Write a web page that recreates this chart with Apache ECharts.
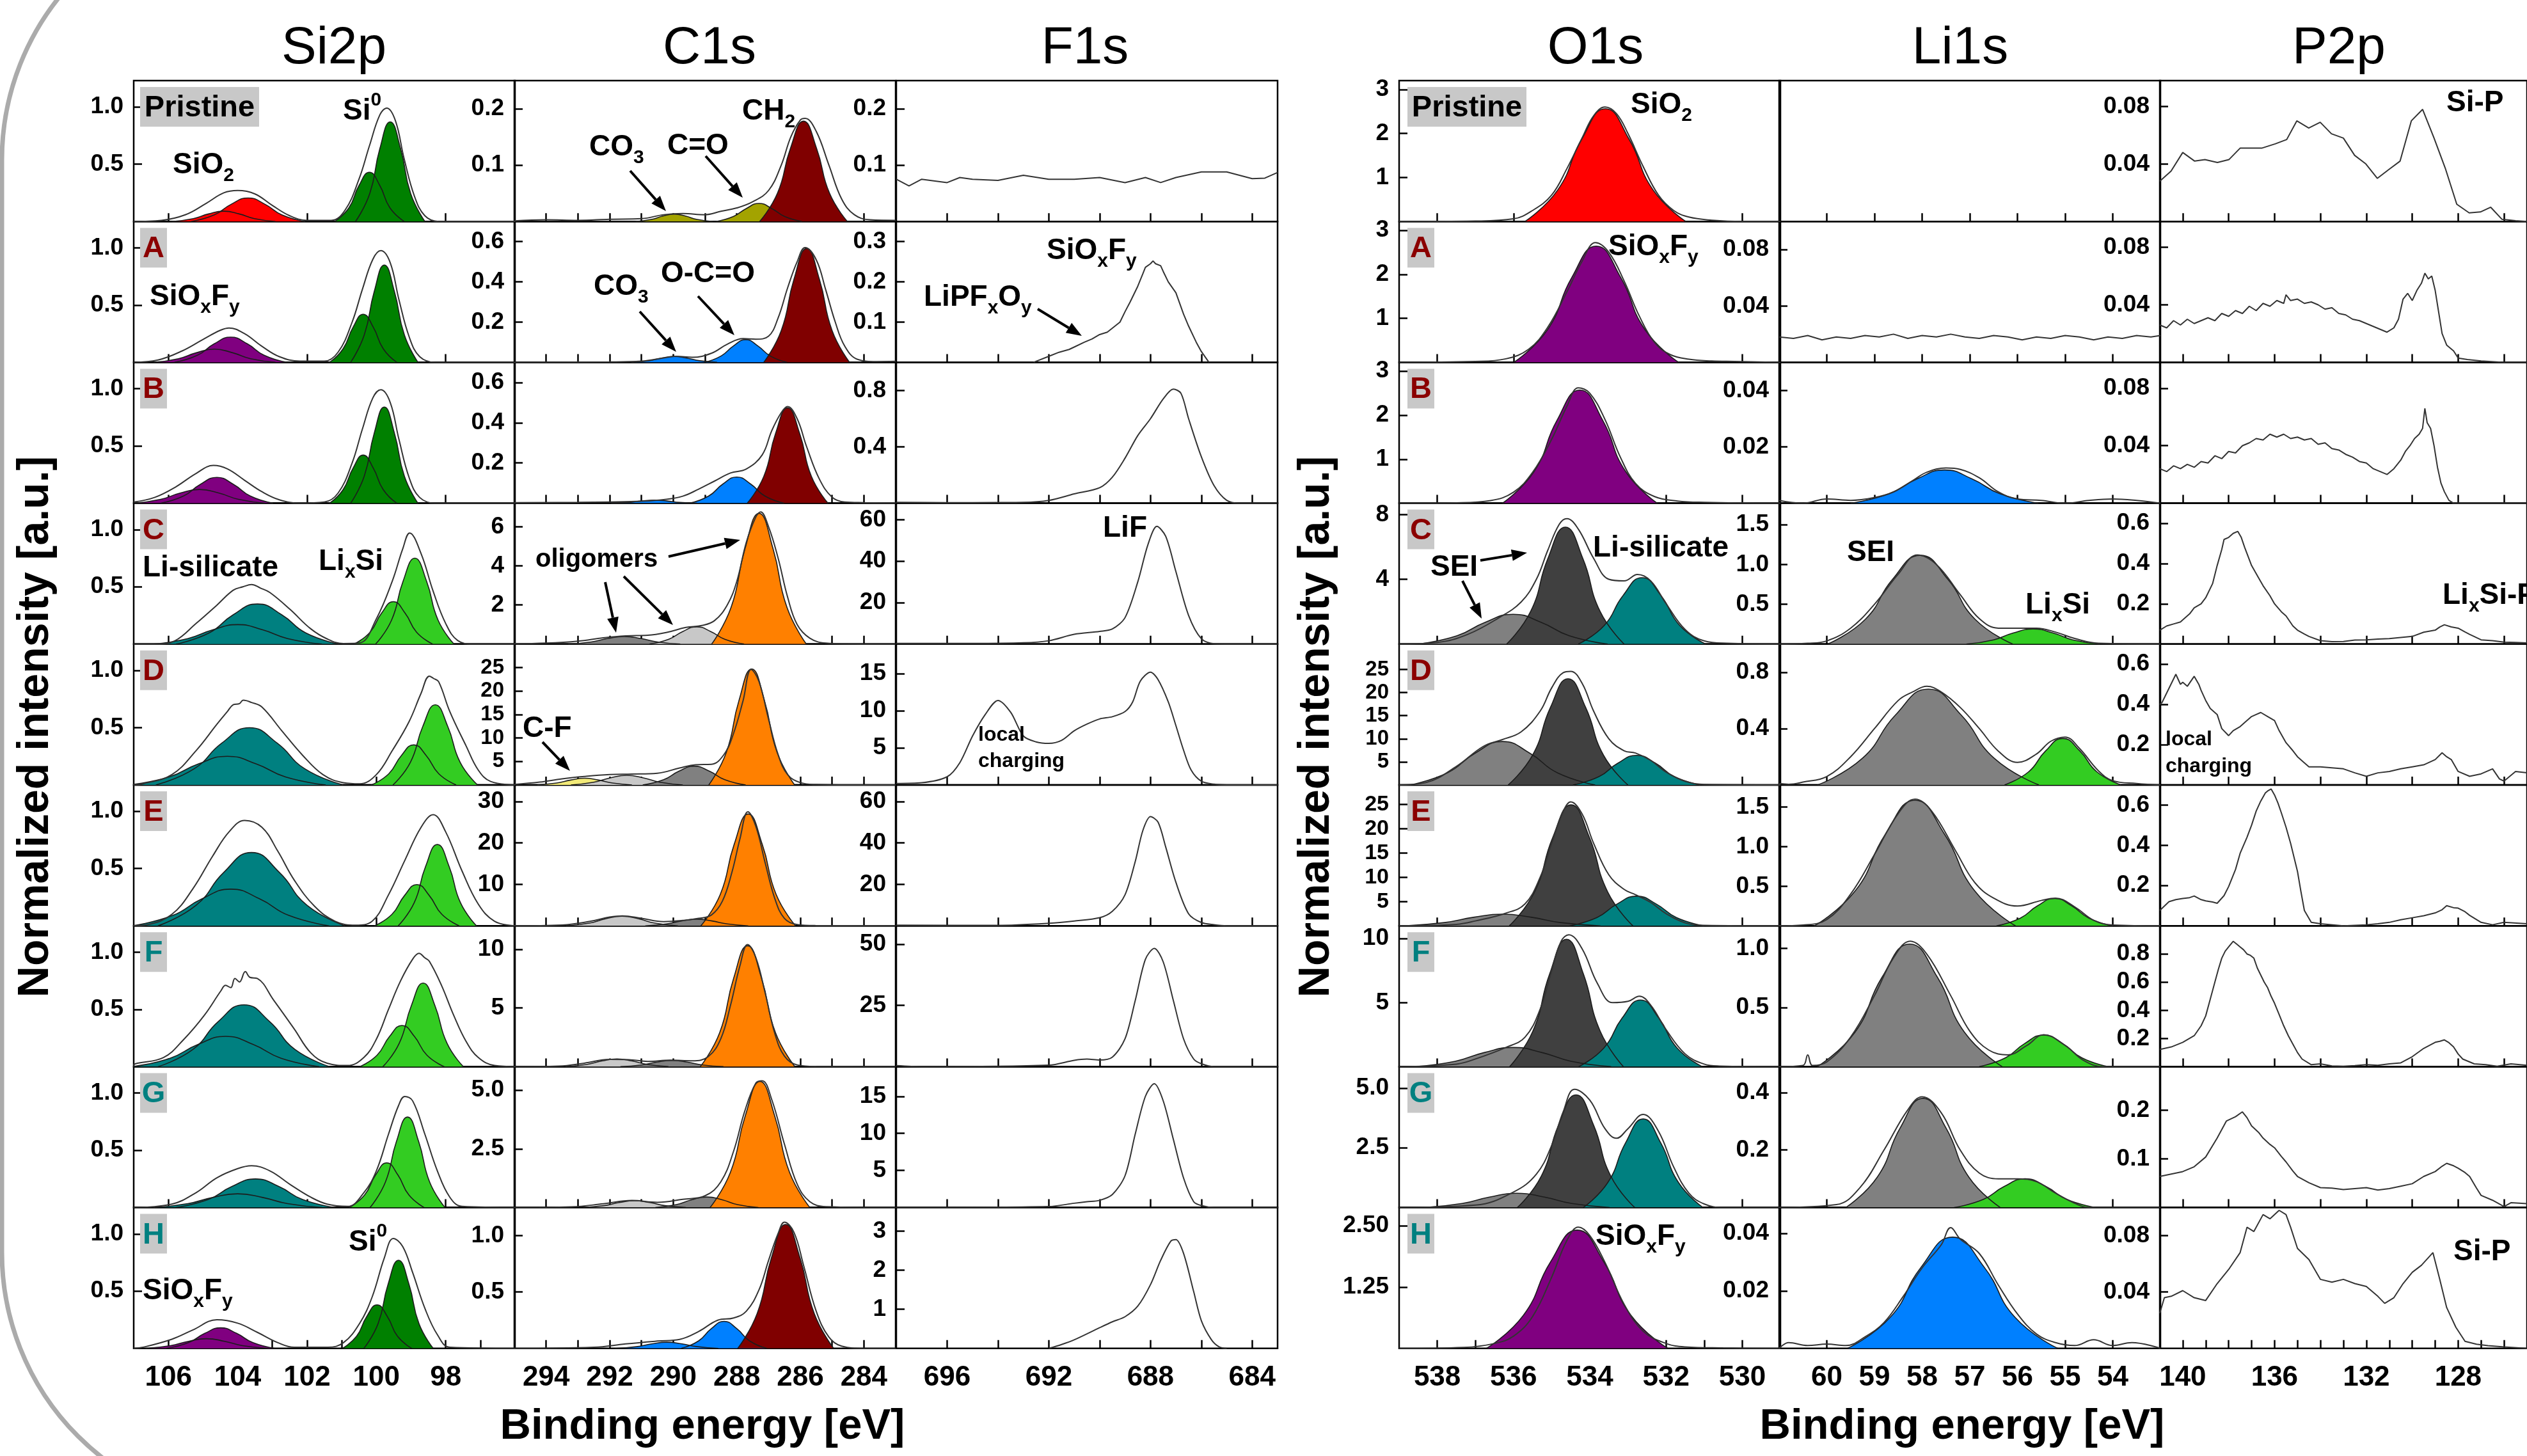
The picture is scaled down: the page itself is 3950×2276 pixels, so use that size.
<!DOCTYPE html>
<html>
<head>
<meta charset="utf-8">
<title>XPS spectra: Si2p, C1s, F1s, O1s, Li1s, P2p</title>
<script src="https://cdn.jsdelivr.net/npm/echarts@6.0.0/dist/echarts.min.js"></script>
<style>
  html, body { margin: 0; padding: 0; background: #fff; }
  #chart { width: 3950px; height: 2276px; }
</style>
</head>
<body>
<div id="chart"></div>
<script>
// ---------- categories / axes ----------
const rowNames = ['Pristine', 'A', 'B', 'C', 'D', 'E', 'F', 'G', 'H'];
const columnNames = ['Si2p', 'C1s', 'F1s', 'O1s', 'Li1s', 'P2p'];

// binding energy ranges (axes are reversed, high BE on the left)
const xMinByColumn = [96, 283, 683, 529, 53, 125];
const xMaxByColumn = [107, 295, 698, 539, 61, 141];
const xLabelValues = [
  [106, 104, 102, 100, 98],
  [294, 292, 290, 288, 286, 284],
  [696, 692, 688, 684],
  [538, 536, 534, 532, 530],
  [60, 59, 58, 57, 56, 55, 54],
  [140, 136, 132, 128]
];
const xTickValues = [
  [106, 104, 102, 100, 98],
  [294, 293, 292, 291, 290, 289, 288, 287, 286, 285, 284],
  [696, 694, 692, 690, 688, 686, 684],
  [538, 536, 534, 532, 530],
  [60, 59, 58, 57, 56, 55, 54],
  [140, 138, 136, 134, 132, 130, 128, 126]
];
const xBottomTickValues = [
  [106, 105, 104, 103, 102, 101, 100, 99, 98, 97],
  [294, 293, 292, 291, 290, 289, 288, 287, 286, 285, 284],
  [696, 694, 692, 690, 688, 686, 684],
  [538, 537, 536, 535, 534, 533, 532, 531, 530],
  [60, 59, 58, 57, 56, 55, 54],
  [140, 139, 138, 137, 136, 135, 134, 133, 132, 131, 130, 129, 128, 127, 126]
];

// intensity axis top per panel [column][row]
const yMaxByPanel = [
  [1.23, 1.23, 1.23, 1.23, 1.23, 1.23, 1.23, 1.23, 1.23],
  [0.25, 0.7, 0.7, 7.2, 30, 34, 12, 6, 1.25],
  [0.25, 0.35, 1.0, 68, 19, 68, 57.5, 19, 3.6],
  [3.2, 3.2, 3.2, 8.7, 30.5, 29, 11, 5.9, 2.87],
  [0.1, 0.1, 0.05, 1.77, 1.0, 1.78, 1.19, 0.49, 0.049],
  [0.098, 0.098, 0.098, 0.7, 0.7, 0.7, 1.0, 0.29, 0.1]
];
const yLabels = [
  [['0.5', '1.0'], ['0.5', '1.0'], ['0.5', '1.0'], ['0.5', '1.0'], ['0.5', '1.0'], ['0.5', '1.0'], ['0.5', '1.0'], ['0.5', '1.0'], ['0.5', '1.0']],
  [['0.1', '0.2'], ['0.2', '0.4', '0.6'], ['0.2', '0.4', '0.6'], ['2', '4', '6'], ['5', '10', '15', '20', '25'], ['10', '20', '30'], ['5', '10'], ['2.5', '5.0'], ['0.5', '1.0']],
  [['0.1', '0.2'], ['0.1', '0.2', '0.3'], ['0.4', '0.8'], ['20', '40', '60'], ['5', '10', '15'], ['20', '40', '60'], ['25', '50'], ['5', '10', '15'], ['1', '2', '3']],
  [['1', '2', '3'], ['1', '2', '3'], ['1', '2', '3'], ['4', '8'], ['5', '10', '15', '20', '25'], ['5', '10', '15', '20', '25'], ['5', '10'], ['2.5', '5.0'], ['1.25', '2.50']],
  [[], ['0.04', '0.08'], ['0.02', '0.04'], ['0.5', '1.0', '1.5'], ['0.4', '0.8'], ['0.5', '1.0', '1.5'], ['0.5', '1.0'], ['0.2', '0.4'], ['0.02', '0.04']],
  [['0.04', '0.08'], ['0.04', '0.08'], ['0.04', '0.08'], ['0.2', '0.4', '0.6'], ['0.2', '0.4', '0.6'], ['0.2', '0.4', '0.6'], ['0.2', '0.4', '0.6', '0.8'], ['0.1', '0.2'], ['0.04', '0.08']]
];

// ---------- Si2p ----------
const si2pPeaks = [
  [[[105.89,0],[105.28,.025],[104.84,.066],[104.4,.09],[103.96,.066],[103.52,.025],[102.91,0]],
   [[105.35,0],[104.68,.057],[104.19,.15],[103.7,.205],[103.21,.15],[102.72,.057],[102.05,0]],
   [[101.2,0],[100.79,.12],[100.5,.314],[100.2,.43],[99.9,.314],[99.61,.12],[99.2,0]],
   [[100.6,0],[100.19,.244],[99.9,.635],[99.6,.87],[99.3,.635],[99.01,.244],[98.6,0]]],
  [[[106.43,0],[105.71,.032],[105.19,.084],[104.67,.115],[104.15,.084],[103.63,.032],[102.91,0]],
   [[105.82,0],[105.16,.062],[104.68,.161],[104.2,.22],[103.72,.161],[103.24,.062],[102.58,0]],
   [[101.35,0],[100.96,.118],[100.67,.307],[100.38,.42],[100.09,.307],[99.8,.118],[99.41,0]],
   [[100.74,0],[100.35,.238],[100.06,.62],[99.77,.85],[99.48,.62],[99.19,.238],[98.8,0]]],
  [[[106.99,0],[106.22,.034],[105.66,.088],[105.1,.12],[104.54,.088],[103.98,.034],[103.21,0]],
   [[106.22,0],[105.56,.063],[105.08,.164],[104.6,.225],[104.12,.164],[103.64,.063],[102.98,0]],
   [[101.35,0],[100.96,.118],[100.67,.307],[100.38,.42],[100.09,.307],[99.8,.118],[99.41,0]],
   [[100.74,0],[100.35,.235],[100.06,.613],[99.77,.84],[99.48,.613],[99.19,.235],[98.8,0]]],
  [[[106.43,0],[105.44,.048],[104.72,.124],[104,.17],[103.28,.124],[102.56,.048],[101.57,0]],
   [[105.78,0],[104.82,.098],[104.13,.256],[103.43,.35],[102.73,.256],[102.04,.098],[101.08,0]],
   [[100.64,0],[100.18,.104],[99.85,.27],[99.51,.37],[99.17,.27],[98.84,.104],[98.38,0]],
   [[100.02,0],[99.56,.21],[99.23,.548],[98.89,.75],[98.55,.548],[98.22,.21],[97.76,0]]],
  [[[107.14,0],[105.98,.07],[105.14,.183],[104.3,.25],[103.46,.183],[102.62,.07],[101.46,0]],
   [[106.36,0],[105.26,.14],[104.46,.365],[103.66,.5],[102.86,.365],[102.06,.14],[100.96,0]],
   [[100.14,0],[99.64,.098],[99.28,.256],[98.92,.35],[98.56,.256],[98.2,.098],[97.7,0]],
   [[99.52,0],[99.02,.196],[98.66,.511],[98.3,.7],[97.94,.511],[97.58,.196],[97.08,0]]],
  [[[107.04,0],[105.88,.09],[105.04,.234],[104.2,.32],[103.36,.234],[102.52,.09],[101.36,0]],
   [[106.3,0],[105.2,.179],[104.4,.467],[103.6,.64],[102.8,.467],[102,.179],[100.9,0]],
   [[100.05,0],[99.55,.1],[99.19,.263],[98.83,.36],[98.47,.263],[98.11,.1],[97.61,0]],
   [[99.37,0],[98.91,.2],[98.58,.518],[98.24,.71],[97.9,.518],[97.57,.2],[97.11,0]]],
  [[[107.05,0],[105.95,.074],[105.15,.193],[104.35,.265],[103.55,.193],[102.75,.074],[101.65,0]],
   [[106.3,0],[105.29,.151],[104.56,.394],[103.82,.54],[103.08,.394],[102.35,.151],[101.34,0]],
   [[100.48,0],[99.98,.1],[99.62,.263],[99.26,.36],[98.9,.263],[98.54,.1],[98.04,0]],
   [[99.81,0],[99.34,.204],[98.99,.533],[98.65,.73],[98.31,.533],[97.96,.204],[97.49,0]]],
  [[[106.43,0],[105.44,.034],[104.72,.088],[104,.12],[103.28,.088],[102.56,.034],[101.57,0]],
   [[105.79,0],[104.85,.07],[104.17,.183],[103.49,.25],[102.81,.183],[102.13,.07],[101.19,0]],
   [[100.78,0],[100.34,.109],[100.02,.285],[99.7,.39],[99.38,.285],[99.06,.109],[98.62,0]],
   [[100.18,0],[99.74,.221],[99.42,.577],[99.1,.79],[98.78,.577],[98.46,.221],[98.02,0]]],
  [[[106.66,0],[105.94,.024],[105.42,.062],[104.9,.085],[104.38,.062],[103.86,.024],[103.14,0]],
   [[106.06,0],[105.42,.05],[104.95,.131],[104.49,.18],[104.03,.131],[103.56,.05],[102.92,0]],
   [[100.98,0],[100.57,.106],[100.28,.277],[99.98,.38],[99.68,.277],[99.39,.106],[98.98,0]],
   [[100.36,0],[99.95,.216],[99.66,.562],[99.36,.77],[99.06,.562],[98.77,.216],[98.36,0]]]
];
const si2pEnvelope = [
  [[107,0],[106.2,.01],[105.5,.06],[104.9,.16],[104.4,.25],[104,.27],[103.5,.24],[103,.14],[102.5,.05],[102,.01],[101.3,.01],[100.9,.1],[100.5,.37],[100.2,.66],[99.9,.93],[99.7,.99],[99.45,.88],[99.2,.55],[98.9,.22],[98.6,.05],[98.2,0],[96,0]],
  [[107,0],[106.3,.02],[105.6,.1],[105,.2],[104.5,.28],[104.25,.3],[103.8,.25],[103.3,.14],[102.8,.05],[102.2,.01],[101.5,.01],[101.1,.09],[100.7,.35],[100.4,.64],[100.1,.9],[99.87,.975],[99.6,.87],[99.35,.55],[99.05,.22],[98.75,.05],[98.3,0],[96,0]],
  [[107,.01],[106.4,.05],[105.8,.14],[105.2,.26],[104.7,.33],[104.3,.3],[103.8,.2],[103.3,.1],[102.8,.03],[102.2,0],[101.5,.01],[101.1,.09],[100.7,.35],[100.4,.65],[100.1,.92],[99.87,.99],[99.6,.88],[99.35,.56],[99.05,.22],[98.75,.05],[98.3,0],[96,0]],
  [[107,0],[106.3,0],[105.8,.03],[105.2,.18],[104.6,.34],[104.13,.47],[103.85,.5],[103.6,.52],[103.35,.49],[103.07,.45],[102.48,.3],[101.9,.135],[101.42,.045],[100.95,.005],[100.48,.01],[100,.22],[99.54,.55],[99.24,.83],[99.04,.97],[98.71,.79],[98.36,.46],[98,.18],[97.65,.03],[97.2,0],[96,0]],
  [[107,0],[106.73,.01],[105.9,.09],[105.2,.3],[104.6,.53],[104.3,.64],[104.13,.7],[103.95,.71],[103.84,.74],[103.6,.72],[103.3,.68],[102.72,.47],[102.13,.26],[101.54,.09],[100.95,.02],[100.48,.01],[100,.09],[99.54,.3],[99.06,.55],[98.71,.8],[98.47,.95],[98.35,.93],[98.2,.9],[97.88,.64],[97.41,.34],[97.06,.13],[96.7,.03],[96,0]],
  [[107,0],[106.6,.01],[105.9,.1],[105.3,.32],[104.72,.61],[104.25,.82],[103.8,.92],[103.3,.86],[102.84,.65],[102.37,.4],[101.78,.17],[101.19,.04],[100.6,.005],[100.12,.04],[99.65,.27],[99.18,.57],[98.71,.86],[98.36,.97],[98,.82],[97.53,.48],[97.06,.19],[96.59,.04],[96,0]],
  [[107,.01],[106.96,.025],[106.14,.08],[105.55,.24],[104.96,.45],[104.49,.66],[104.35,.71],[104.2,.69],[104.08,.77],[103.95,.74],[103.78,.83],[103.65,.78],[103.43,.77],[102.96,.58],[102.37,.33],[101.89,.12],[101.42,.03],[100.83,.01],[100.36,.08],[100,.24],[99.65,.5],[99.3,.75],[98.95,.94],[98.77,.99],[98.6,.95],[98.47,.92],[98.12,.71],[97.77,.45],[97.41,.22],[97.06,.08],[96.59,.01],[96,0]],
  [[107,0],[105.9,.03],[105.2,.13],[104.6,.26],[104,.34],[103.6,.365],[103.07,.32],[102.48,.2],[101.89,.09],[101.42,.03],[100.83,.01],[100.36,.13],[100,.32],[99.65,.64],[99.36,.89],[99.18,.97],[98.95,.93],[98.6,.64],[98.24,.32],[97.88,.09],[97.53,.01],[96,0]],
  [[107,0],[106.73,.01],[105.9,.08],[105.3,.16],[104.6,.25],[104,.22],[103.43,.14],[102.84,.05],[102.37,.01],[101.4,.01],[100.95,.05],[100.48,.22],[100.12,.45],[99.77,.79],[99.51,.96],[99.24,.89],[98.95,.66],[98.6,.35],[98.24,.12],[97.88,.01],[96,0]]
];

// ---------- C1s ----------
const c1sPeaks = [
  [[[291.19,0],[290.69,.0036],[290.33,.0095],[289.97,.013],[289.61,.0095],[289.25,.0036],[288.75,0]],
   [[288.65,0],[288.1,.009],[287.7,.023],[287.3,.032],[286.9,.023],[286.5,.009],[285.95,0]],
   [[287.28,0],[286.72,.05],[286.31,.13],[285.9,.178],[285.49,.13],[285.08,.05],[284.52,0]]],
  [[[291.32,0],[290.77,.008],[290.37,.021],[289.97,.029],[289.57,.021],[289.17,.008],[288.62,0]],
   [[289.02,0],[288.49,.032],[288.1,.082],[287.72,.113],[287.34,.082],[286.95,.032],[286.42,0]],
   [[287.15,0],[286.6,.158],[286.2,.413],[285.8,.566],[285.4,.413],[285,.158],[284.45,0]]],
  [[[291.95,0],[291.4,.004],[291,.011],[290.6,.015],[290.2,.011],[289.8,.004],[289.25,0]],
   [[289.49,0],[288.88,.036],[288.44,.095],[288,.13],[287.56,.095],[287.12,.036],[286.51,0]],
   [[287.67,0],[287.15,.133],[286.78,.346],[286.4,.474],[286.02,.346],[285.65,.133],[285.13,0]]],
  [[[293.3,0],[292.58,.11],[292.06,.285],[291.54,.39],[291.02,.285],[290.5,.11],[289.78,0]],
   [[290.75,0],[290.14,.246],[289.7,.642],[289.26,.88],[288.82,.642],[288.38,.246],[287.77,0]],
   [[288.79,0],[288.18,1.87],[287.74,4.88],[287.3,6.68],[286.86,4.88],[286.42,1.87],[285.81,0]]],
  [[[294.28,0],[293.67,.4],[293.23,1.04],[292.79,1.43],[292.35,1.04],[291.91,.4],[291.3,0]],
   [[293.22,0],[292.5,.574],[291.98,1.5],[291.46,2.05],[290.94,1.5],[290.42,.574],[289.7,0]],
   [[290.96,0],[290.3,1.12],[289.82,2.92],[289.34,4],[288.86,2.92],[288.38,1.12],[287.72,0]],
   [[288.88,0],[288.33,6.92],[287.93,18],[287.53,24.7],[287.13,18],[286.73,6.92],[286.18,0]]],
  [[[293.37,0],[292.65,.644],[292.13,1.68],[291.61,2.3],[291.09,1.68],[290.57,.644],[289.85,0]],
   [[290.88,0],[290.22,.448],[289.74,1.17],[289.26,1.6],[288.78,1.17],[288.3,.448],[287.64,0]],
   [[289.13,0],[288.52,7.56],[288.08,19.7],[287.64,27],[287.2,19.7],[286.76,7.56],[286.15,0]]],
  [[[293.39,0],[292.73,.185],[292.25,.482],[291.77,.66],[291.29,.482],[290.81,.185],[290.15,0]],
   [[291.66,0],[291,.148],[290.52,.387],[290.04,.53],[289.56,.387],[289.08,.148],[288.42,0]],
   [[289.15,0],[288.54,2.88],[288.1,7.52],[287.66,10.3],[287.22,7.52],[286.78,2.88],[286.17,0]]],
  [[[292.84,0],[292.18,.081],[291.7,.212],[291.22,.29],[290.74,.212],[290.26,.081],[289.6,0]],
   [[290.56,0],[289.9,.126],[289.42,.329],[288.94,.45],[288.46,.329],[287.98,.126],[287.32,0]],
   [[288.84,0],[288.2,1.5],[287.73,3.92],[287.27,5.37],[286.81,3.92],[286.34,1.5],[285.7,0]]],
  [[[291.82,0],[291.16,.015],[290.68,.04],[290.2,.055],[289.72,.04],[289.24,.015],[288.58,0]],
   [[289.75,0],[289.2,.067],[288.8,.175],[288.4,.24],[288,.175],[287.6,.067],[287.05,0]],
   [[287.97,0],[287.36,.308],[286.91,.803],[286.46,1.1],[286.01,.803],[285.56,.308],[284.95,0]]]
];
const c1sEnvelope = [
  [[295,.001],[294,.003],[293,.002],[292,.004],[291,.005],[290.3,.012],[289.7,.014],[289,.012],[288.5,.018],[288,.024],[287.5,.035],[287,.055],[286.6,.1],[286.3,.15],[286,.18],[285.85,.183],[285.5,.16],[285.1,.1],[284.7,.04],[284.3,.012],[283.8,.003],[283,.002]],
  [[295,0],[292,.002],[291,.006],[290.3,.022],[289.9,.03],[289.4,.025],[288.8,.045],[288.3,.09],[287.8,.118],[287.4,.115],[287,.13],[286.7,.22],[286.4,.37],[286.1,.5],[285.85,.57],[285.5,.51],[285.2,.36],[284.9,.2],[284.6,.08],[284.2,.015],[283.6,.004],[283,.005]],
  [[295,.003],[293,.004],[292,.006],[291,.01],[290.3,.018],[289.7,.035],[289.2,.07],[288.7,.11],[288.2,.15],[287.7,.17],[287.2,.24],[286.9,.36],[286.6,.45],[286.4,.48],[286.1,.42],[285.8,.28],[285.4,.12],[285,.03],[284.6,.006],[284,.003],[283,.001]],
  [[295,.02],[294,.05],[293,.15],[292.2,.32],[291.5,.42],[290.8,.45],[290.2,.6],[289.6,.85],[289.1,.95],[288.7,1.2],[288.3,2],[288,3.2],[287.7,5.2],[287.4,6.5],[287.25,6.75],[287,6],[286.7,4.4],[286.4,2.4],[286.1,1],[285.7,.3],[285.2,.05],[284.5,.01],[283,0]],
  [[295,.1],[294.2,.6],[293.5,1.3],[292.8,1.8],[292,2.2],[291.3,2.3],[290.5,2.5],[289.8,3.6],[289.3,4.3],[288.8,4.4],[288.4,6.5],[288.1,11],[287.8,18],[287.55,24.6],[287.3,22],[287,14],[286.7,6.5],[286.4,2.2],[286,.5],[285.5,.1],[284.5,0],[283,0]],
  [[295,0],[293.5,.2],[292.6,1.1],[292,2.1],[291.6,2.4],[291,1.8],[290.3,1],[289.7,1.3],[289.2,1.8],[288.8,2.6],[288.45,6],[288.15,13],[287.9,21],[287.65,27.5],[287.4,24],[287.1,15],[286.8,6.5],[286.5,1.8],[286.1,.3],[285.5,.05],[283,0]],
  [[295,0],[293.6,.05],[292.8,.3],[292,.62],[291.4,.6],[290.8,.45],[290.1,.55],[289.4,.5],[288.9,.85],[288.5,2.4],[288.2,5.2],[287.9,8.6],[287.66,10.4],[287.4,9.3],[287.1,6.2],[286.8,2.8],[286.5,.9],[286.1,.15],[285.5,.02],[283,0]],
  [[295,0],[293.2,.03],[292.2,.16],[291.3,.3],[290.5,.22],[289.7,.35],[289,.5],[288.5,1.1],[288.1,2.4],[287.75,4.1],[287.4,5.3],[287.2,5.4],[286.9,4.6],[286.5,2.7],[286.1,1],[285.7,.25],[285.2,.04],[283,0]],
  [[295,0],[292.5,.01],[291.5,.04],[290.5,.065],[289.8,.08],[289.2,.15],[288.6,.25],[288.1,.27],[287.7,.33],[287.3,.52],[287,.78],[286.7,1.02],[286.5,1.12],[286.2,1.03],[285.9,.74],[285.5,.33],[285.1,.1],[284.7,.02],[284,0],[283,0]]
];

// ---------- F1s (raw spectra) ----------
const f1sSpectra = [
  [[698,.075],[697.5,.063],[697,.075],[696,.069],[695.5,.078],[695,.075],[694,.073],[693,.082],[692,.075],[691,.075],[690,.078],[689,.069],[688.2,.078],[687.6,.069],[687,.078],[686,.088],[685,.088],[684,.076],[683.5,.077],[683,.087]],
  [[692.6,0],[692,.015],[691.6,.025],[691.2,.032],[691,.038],[690.6,.05],[690.3,.058],[690,.069],[689.7,.075],[689.5,.085],[689.2,.1],[689,.126],[688.8,.15],[688.5,.189],[688.3,.22],[688.2,.236],[688,.245],[687.9,.252],[687.8,.245],[687.6,.24],[687.5,.226],[687.3,.2],[687,.173],[686.7,.12],[686.5,.09],[686.2,.05],[686,.027],[685.7,0]],
  [[698,.006],[696,.004],[694,.005],[693,.006],[692,.02],[691,.066],[690,.11],[689.5,.185],[689,.32],[688.5,.48],[688,.6],[687.5,.74],[687.1,.81],[686.8,.78],[686.5,.6],[686,.33],[685.5,.125],[685,.02],[684.5,0],[683,0]],
  [[698,.3],[695,.3],[693,.6],[692,1.6],[691,4.7],[690,6.1],[689.5,7.3],[689,12.8],[688.5,30],[688.1,48],[687.75,56.8],[687.4,52],[687,35],[686.5,13.8],[686,2.6],[685.5,.2],[684,0],[683,0]],
  [[698,.2],[697,.3],[696,1.1],[695.5,3],[695,6.6],[694.5,9.5],[694,11.4],[693.5,9.8],[693,6.6],[692.5,5.8],[692,5.6],[691.5,6],[691,7.3],[690.5,8.2],[690,8.9],[689.5,9.2],[689,9.9],[688.7,11.2],[688.4,14],[688,15.2],[687.7,14.2],[687.3,11.2],[687,8],[686.7,4.7],[686.4,2],[686,.5],[685.5,.1],[685,0],[683,0]],
  [[698,.3],[694,.2],[692,1.2],[691,2.3],[690,3.9],[689.5,7],[689,15],[688.6,31],[688.3,46],[688,52.7],[687.7,50],[687.4,38],[687,21],[686.5,5.8],[686,1.6],[685.5,.5],[685,0],[683,0]],
  [[698,.4],[697,0],[692,.6],[691,2.6],[690.5,3.1],[690,2.7],[689.5,3.9],[689,11.4],[688.6,27],[688.2,43.8],[687.85,48.3],[687.5,42.8],[687.1,27],[686.7,11.4],[686.3,3.1],[686,1.2],[685.5,0],[683,0]],
  [[698,0],[692,.13],[691,.58],[690.5,.78],[690,.97],[689.5,1.75],[689,4.3],[688.6,9.9],[688.2,15],[687.85,16.7],[687.5,14.4],[687.1,9.2],[686.7,4],[686.3,.78],[686,.26],[685.5,0],[683,0]],
  [[692,0],[691.5,.1],[691,.22],[690,.53],[689.5,.68],[689,.81],[688.5,1.08],[688,1.63],[687.6,2.25],[687.2,2.74],[687,2.78],[686.7,2.43],[686.3,1.45],[686,.71],[685.6,.22],[685.3,.04],[685,0]]
];

// ---------- O1s ----------
const o1sPeaks = [
  [[[535.7,0],[534.84,.717],[534.21,1.87],[533.59,2.56],[532.97,1.87],[532.34,.717],[531.48,0]]],
  [[[535.99,0],[535.11,.739],[534.47,1.93],[533.83,2.64],[533.19,1.93],[532.55,.739],[531.67,0]]],
  [[[536.29,0],[535.46,.72],[534.86,1.88],[534.26,2.57],[533.66,1.88],[533.06,.72],[532.23,0]]],
  [[[538.49,0],[537.48,.515],[536.75,1.34],[536.01,1.84],[535.27,1.34],[534.54,.515],[533.53,0]],
   [[536.18,0],[535.55,2.02],[535.1,5.27],[534.64,7.22],[534.18,5.27],[533.73,2.02],[533.1,0]],
   [[534.3,0],[533.62,1.15],[533.13,2.99],[532.63,4.1],[532.13,2.99],[531.64,1.15],[530.96,0]]],
  [[[538.72,0],[537.73,2.63],[537.01,6.86],[536.29,9.4],[535.57,6.86],[534.85,2.63],[533.86,0]],
   [[536.14,0],[535.5,6.44],[535.03,16.8],[534.57,23],[534.11,16.8],[533.64,6.44],[533,0]],
   [[534.44,0],[533.76,1.79],[533.27,4.67],[532.77,6.4],[532.27,4.67],[531.78,1.79],[531.1,0]]],
  [[[538.86,0],[537.81,.672],[537.05,1.75],[536.29,2.4],[535.53,1.75],[534.77,.672],[533.72,0]],
   [[536.11,0],[535.45,6.97],[534.97,18.2],[534.49,24.9],[534.01,18.2],[533.53,6.97],[532.87,0]],
   [[534.53,0],[533.81,1.71],[533.29,4.45],[532.77,6.1],[532.25,4.45],[531.73,1.71],[531.01,0]]],
  [[[538.58,0],[537.53,.42],[536.77,1.1],[536.01,1.5],[535.25,1.1],[534.49,.42],[533.44,0]],
   [[536.1,0],[535.49,2.79],[535.05,7.26],[534.61,9.95],[534.17,7.26],[533.73,2.79],[533.12,0]],
   [[534.29,0],[533.63,1.46],[533.15,3.8],[532.67,5.2],[532.19,3.8],[531.71,1.46],[531.05,0]]],
  [[[538.34,0],[537.35,.168],[536.63,.438],[535.91,.6],[535.19,.438],[534.47,.168],[533.48,0]],
   [[535.9,0],[535.27,1.32],[534.82,3.45],[534.36,4.72],[533.9,3.45],[533.45,1.32],[532.82,0]],
   [[534.17,0],[533.53,1.04],[533.06,2.71],[532.6,3.71],[532.14,2.71],[531.67,1.04],[531.03,0]]],
  [[[536.71,0],[535.74,.675],[535.03,1.76],[534.33,2.41],[533.63,1.76],[532.92,.675],[531.95,0]]]
];
const o1sEnvelope = [
  [[539,0],[537,.01],[536,.06],[535.5,.25],[535,.6],[534.6,1.2],[534.2,1.9],[533.9,2.4],[533.6,2.6],[533.3,2.45],[533,2],[532.6,1.25],[532.2,.6],[531.8,.25],[531.4,.1],[530.8,.03],[530,0],[529,0]],
  [[539,0],[537,.02],[536.2,.08],[535.6,.3],[535.1,.8],[534.6,1.6],[534.2,2.3],[533.85,2.72],[533.5,2.5],[533.1,1.85],[532.7,1.05],[532.3,.45],[531.9,.18],[531.4,.07],[530.8,.03],[530.2,.02],[529,0]],
  [[539,0],[537.5,.01],[536.6,.06],[536,.25],[535.5,.7],[535,1.45],[534.6,2.2],[534.3,2.62],[534,2.5],[533.6,1.9],[533.2,1.05],[532.8,.45],[532.3,.15],[531.7,.05],[531,.02],[529,0]],
  [[539,0],[538,.1],[537.2,.6],[536.4,1.6],[535.8,2.6],[535.4,4],[535.1,5.8],[534.8,7.4],[534.6,7.75],[534.3,7.1],[533.9,5.3],[533.5,4],[533.1,3.9],[532.75,4.3],[532.4,3.9],[532,2.5],[531.5,.9],[531,.2],[530.4,.05],[529,0]],
  [[539,0],[538.3,.5],[537.5,4],[536.8,8.3],[536.3,9.8],[535.8,11.5],[535.3,16],[535,21],[534.7,24.3],[534.5,24.6],[534.2,22],[533.9,16],[533.5,10],[533.1,7.4],[532.8,6.9],[532.4,5.3],[532,2.8],[531.5,.8],[531,.1],[529,0]],
  [[539,0],[537.5,.3],[537,1],[536.2,2.6],[535.7,4.5],[535.3,10],[535,17],[534.7,23.5],[534.5,25.5],[534.2,23],[533.9,17],[533.5,10.5],[533.1,7.5],[532.8,6.4],[532.4,4.8],[532,2.5],[531.5,.6],[531,.1],[529,0]],
  [[539,0],[537.5,.2],[537,.6],[536.2,1.5],[535.7,2.3],[535.3,4.5],[535,7.5],[534.75,9.8],[534.55,10.3],[534.2,9.2],[533.8,6.5],[533.4,5],[533,5.1],[532.7,5.5],[532.4,4.8],[532,2.9],[531.5,1],[531,.2],[530.6,.05],[529,0]],
  [[539,0],[537,.1],[536,.65],[535.4,1.4],[535,2.6],[534.7,4],[534.4,4.95],[534,4.5],[533.6,3.3],[533.3,2.9],[533,3.3],[532.6,3.9],[532.2,3.2],[531.8,1.7],[531.4,.6],[531,.15],[530.5,0],[529,0]],
  [[539,0],[537.3,.02],[536.5,.1],[536,.25],[535.5,.65],[535,1.45],[534.6,2.2],[534.3,2.47],[534,2.3],[533.6,1.75],[533.1,.9],[532.6,.35],[532,.1],[531.5,.03],[530.5,.01],[529,0]]
];

// ---------- Li1s ----------
const li1sPeaks = [
  [],
  [],
  [[[59.5,0],[58.7,.0033],[58.11,.0086],[57.53,.0118],[56.95,.0086],[56.36,.0033],[55.56,0]]],
  [[[59.98,0],[59.19,.312],[58.62,.814],[58.04,1.115],[57.46,.814],[56.89,.312],[56.1,0]],
   [[57.07,0],[56.5,.053],[56.09,.139],[55.67,.19],[55.25,.139],[54.84,.053],[54.27,0]]],
  [[[60.19,0],[59.25,.19],[58.56,.496],[57.87,.68],[57.18,.496],[56.49,.19],[55.55,0]],
   [[56.27,0],[55.77,.092],[55.41,.241],[55.05,.33],[54.69,.241],[54.33,.092],[53.83,0]]],
  [[[60.26,0],[59.4,.444],[58.77,1.158],[58.15,1.586],[57.53,1.158],[56.9,.444],[56.04,0]],
   [[56.44,0],[55.94,.097],[55.58,.252],[55.22,.345],[54.86,.252],[54.5,.097],[54,0]]],
  [[[60.2,0],[59.41,.29],[58.84,.756],[58.26,1.036],[57.68,.756],[57.11,.29],[56.32,0]],
   [[56.8,0],[56.25,.075],[55.85,.195],[55.45,.267],[55.05,.195],[54.65,.075],[54.1,0]]],
  [[[59.6,0],[58.94,.106],[58.46,.277],[57.98,.38],[57.5,.277],[57.02,.106],[56.36,0]],
   [[57.33,0],[56.72,.028],[56.28,.073],[55.84,.1],[55.4,.073],[54.96,.028],[54.35,0]]],
  [[[59.57,0],[58.67,.0108],[58.02,.0283],[57.36,.0387],[56.7,.0283],[56.05,.0108],[55.15,0]]]
];
const li1sEnvelope = [
  [],
  [[61,.018],[60.7,.017],[60.4,.019],[60.1,.016],[59.8,.018],[59.5,.017],[59.2,.019],[58.9,.018],[58.6,.02],[58.3,.017],[58,.019],[57.7,.018],[57.4,.02],[57.1,.018],[56.8,.017],[56.5,.019],[56.2,.018],[55.9,.016],[55.6,.018],[55.3,.017],[55,.019],[54.7,.018],[54.4,.016],[54.1,.018],[53.8,.017],[53.5,.019],[53.2,.018],[53,.019]],
  [[61,.001],[60.5,0],[60,.0015],[59.5,.001],[59,.002],[58.6,.004],[58.2,.008],[57.9,.011],[57.5,.0125],[57.2,.012],[56.8,.009],[56.4,.004],[56,.0015],[55.5,.001],[55,0],[54.5,.001],[54,.0015],[53.5,.001],[53,0]],
  [[61,0],[60.4,.01],[60,.04],[59.5,.2],[59,.5],[58.5,.88],[58.1,1.12],[57.7,1],[57.2,.62],[56.8,.32],[56.4,.2],[56,.2],[55.6,.2],[55.2,.15],[54.8,.07],[54.3,.01],[53,0]],
  [[61,.01],[60.8,.005],[60.5,.02],[60,.06],[59.5,.2],[59,.4],[58.5,.6],[58.2,.66],[57.9,.7],[57.6,.66],[57.2,.55],[56.8,.4],[56.4,.24],[56,.16],[55.6,.22],[55.3,.31],[55,.34],[54.7,.26],[54.3,.1],[54,.03],[53.5,.01],[53,0]],
  [[61,0],[60.5,.01],[60,.08],[59.5,.4],[59,.9],[58.5,1.42],[58.15,1.6],[57.8,1.45],[57.3,.95],[56.9,.55],[56.5,.35],[56,.25],[55.5,.32],[55.2,.35],[54.8,.24],[54.4,.07],[54,.01],[53,0]],
  [[61,0],[60.5,.01],[60.4,.1],[60.3,.01],[60,.04],[59.5,.25],[59,.6],[58.6,.92],[58.25,1.06],[57.9,.95],[57.4,.6],[57,.3],[56.6,.14],[56.2,.1],[55.8,.18],[55.45,.27],[55,.18],[54.6,.05],[54.2,0],[53,0]],
  [[61,0],[59.8,.01],[59.3,.07],[58.8,.2],[58.3,.34],[58,.385],[57.6,.33],[57.2,.2],[56.8,.12],[56.4,.1],[56,.1],[55.6,.09],[55.2,.05],[54.8,.015],[54.5,0],[53,0]],
  [[61,0],[60.8,.002],[60.4,.001],[60,.0015],[59.6,.001],[59.2,.004],[58.8,.009],[58.4,.018],[58,.028],[57.6,.036],[57.4,.042],[57.2,.038],[56.8,.033],[56.4,.022],[56,.012],[55.6,.005],[55.2,.002],[54.8,.001],[54.4,.003],[54,.001],[53.6,.002],[53,0]]
];

// ---------- P2p (raw spectra) ----------
const p2pSpectra = [
  [[141,.028],[140.51,.035],[140,.048],[139.48,.042],[139.03,.043],[138.49,.041],[137.99,.043],[137.5,.051],[136.56,.051],[135.97,.054],[135.47,.057],[135.03,.07],[134.51,.065],[134.01,.069],[133.52,.061],[133,.058],[132.51,.046],[132.02,.04],[131.52,.03],[131.03,.036],[130.53,.042],[130.04,.07],[129.55,.078],[129.05,.058],[128.56,.037],[128.06,.012],[127.52,.006],[127.03,.0066],[126.58,.0099],[126.09,.0015],[125.5,.0005],[125,0]],
  [[141,.026],[140.7,.024],[140.4,.029],[140.1,.026],[139.8,.03],[139.5,.027],[139.2,.029],[138.9,.031],[138.6,.029],[138.3,.034],[138,.032],[137.7,.036],[137.4,.034],[137.1,.039],[136.8,.036],[136.5,.041],[136.2,.039],[135.9,.043],[135.6,.041],[135.5,.047],[135.3,.043],[135,.044],[134.7,.041],[134.4,.042],[134.1,.04],[133.8,.037],[133.5,.038],[133.2,.034],[132.9,.033],[132.6,.03],[132.3,.029],[132,.027],[131.7,.025],[131.4,.023],[131.1,.021],[130.8,.024],[130.6,.03],[130.4,.044],[130.2,.048],[130,.043],[129.8,.05],[129.6,.055],[129.45,.062],[129.3,.058],[129.15,.06],[129,.05],[128.85,.035],[128.7,.02],[128.5,.012],[128.2,.008],[128,.003],[127.6,.002],[127,.001],[126,0],[125,0]],
  [[141,.024],[140.7,.022],[140.4,.026],[140.1,.024],[139.8,.027],[139.5,.025],[139.2,.029],[138.9,.028],[138.6,.033],[138.3,.031],[138,.036],[137.7,.035],[137.4,.04],[137.1,.042],[136.8,.045],[136.5,.044],[136.2,.048],[135.9,.046],[135.6,.048],[135.3,.045],[135,.046],[134.7,.044],[134.4,.045],[134.1,.041],[133.8,.042],[133.5,.038],[133.2,.037],[132.9,.034],[132.6,.032],[132.3,.029],[132,.028],[131.7,.024],[131.4,.022],[131.1,.02],[130.8,.024],[130.5,.03],[130.3,.036],[130.1,.04],[129.9,.045],[129.7,.048],[129.55,.052],[129.45,.066],[129.35,.056],[129.2,.052],[129.05,.04],[128.9,.025],[128.75,.014],[128.6,.008],[128.4,.002],[128.2,0],[125,0]],
  [[141,.069],[140.7,.09],[140.4,.1],[140.1,.11],[140,.12],[139.7,.15],[139.5,.18],[139.2,.2],[139,.23],[138.7,.3],[138.5,.39],[138.3,.47],[138.2,.52],[138,.53],[137.8,.55],[137.6,.56],[137.45,.53],[137.3,.48],[137,.39],[136.7,.33],[136.5,.29],[136.2,.24],[136,.2],[135.7,.16],[135.5,.14],[135.2,.09],[135,.069],[134.7,.05],[134.5,.038],[134,.017],[133.5,.012],[133,.013],[132.5,.02],[132,.021],[131.5,.025],[131,.027],[130.5,.033],[130,.038],[129.5,.059],[129,.069],[128.8,.085],[128.6,.096],[128.3,.085],[128,.079],[127.7,.06],[127.5,.048],[127,.021],[126.5,.017],[126,.01],[125.5,.008],[125,.006]],
  [[141,.4],[140.9,.41],[140.6,.48],[140.3,.55],[140.1,.5],[140,.51],[139.8,.49],[139.5,.54],[139.3,.5],[139.2,.47],[139,.42],[138.8,.38],[138.5,.35],[138.3,.28],[138,.245],[137.8,.27],[137.5,.29],[137.2,.32],[137,.34],[136.8,.35],[136.6,.36],[136.3,.34],[136,.32],[135.8,.27],[135.5,.21],[135.2,.17],[135,.14],[134.7,.11],[134.5,.09],[134,.09],[133.5,.085],[133,.08],[132.5,.06],[132,.043],[131.5,.06],[131,.067],[130.5,.08],[130,.09],[129.5,.1],[129,.126],[128.7,.16],[128.5,.14],[128.3,.126],[128,.067],[127.5,.043],[127,.055],[126.5,.08],[126.2,.03],[126,.019],[125.5,.067],[125,.06]],
  [[141,.076],[140.6,.12],[140.3,.13],[140,.136],[139.7,.14],[139.5,.148],[139.2,.13],[139,.124],[138.7,.118],[138.5,.112],[138.2,.15],[138,.195],[137.7,.28],[137.5,.36],[137.2,.44],[137,.5],[136.8,.57],[136.6,.62],[136.4,.66],[136.3,.67],[136.15,.68],[136,.65],[135.85,.61],[135.7,.56],[135.5,.49],[135.3,.41],[135,.27],[134.85,.17],[134.7,.076],[134.4,.017],[134,.01],[133,0],[132,.005],[131.5,.01],[131,.017],[130.5,.03],[130,.04],[129.5,.05],[129,.064],[128.7,.08],[128.5,.1],[128.2,.09],[128,.088],[127.7,.07],[127.5,.052],[127,.017],[126.5,.005],[126,.017],[125,.01]],
  [[141,.122],[140.5,.14],[140,.173],[139.5,.22],[139.2,.29],[139,.36],[138.8,.48],[138.6,.6],[138.45,.69],[138.3,.77],[138.15,.82],[138,.85],[137.8,.89],[137.65,.87],[137.5,.85],[137.35,.83],[137.2,.8],[137.05,.79],[136.9,.77],[136.75,.7],[136.6,.65],[136.45,.6],[136.3,.56],[136.15,.5],[136,.45],[135.8,.37],[135.6,.29],[135.4,.22],[135.2,.16],[135,.1],[134.8,.054],[134.4,.014],[134,.02],[133.5,.005],[133,.003],[132.5,.008],[132,.014],[131.5,.01],[131,.02],[130.5,.027],[130,.071],[129.5,.13],[129,.173],[128.8,.18],[128.6,.19],[128.4,.17],[128.2,.14],[128,.09],[127.8,.054],[127.3,.02],[126.8,.014],[126.3,.003],[125.7,.02],[125,.01]],
  [[141,.064],[140.5,.069],[140,.074],[139.5,.084],[139,.104],[138.5,.143],[138.1,.178],[137.7,.187],[137.4,.197],[137.2,.185],[137,.168],[136.7,.155],[136.5,.143],[136.2,.13],[136,.123],[135.7,.105],[135.5,.094],[135.2,.075],[135,.064],[134.5,.051],[134,.041],[133.5,.04],[133,.037],[132.5,.039],[132,.041],[131.5,.036],[131,.039],[130.5,.044],[130,.049],[129.5,.064],[129,.074],[128.7,.085],[128.5,.091],[128.2,.086],[128,.081],[127.7,.072],[127.5,.064],[127.2,.04],[127,.025],[126.5,.015],[126,.002],[125.7,.01],[125,.008]],
  [[141,.025],[140.8,.036],[140.5,.037],[140,.041],[139.5,.036],[139,.034],[138.5,.046],[138,.056],[137.5,.068],[137.2,.086],[136.9,.083],[136.5,.095],[136.2,.092],[135.8,.098],[135.5,.095],[135.3,.086],[135,.071],[134.5,.063],[134,.049],[133.5,.047],[133,.049],[132.5,.046],[132,.044],[131.5,.037],[131.2,.032],[130.8,.036],[130.4,.046],[130,.054],[129.6,.059],[129.1,.068],[128.8,.049],[128.5,.029],[128.1,.015],[127.7,.005],[127.2,.003],[126.7,.002],[126,.001],[125,0]]
];

// ---------- styles ----------
const FONT = '"Liberation Sans", Arial, Helvetica, sans-serif';
const RED = '#ff0000', SI0 = '#008000', PURPLE = '#800080', TEAL = '#008080', LIME = '#33cc22';
const OLIVE = '#a3a300', MAROON = '#800000', BLUE = '#0080ff', ORANGE = '#ff8000';
const LGRAY = '#c8c8c8', MGRAY = '#808080', DGRAY = '#404040', YELLOW = '#f2ea78';

const si2pFill = [
  [RED, RED, SI0, SI0], [PURPLE, PURPLE, SI0, SI0], [PURPLE, PURPLE, SI0, SI0],
  [TEAL, TEAL, LIME, LIME], [TEAL, TEAL, LIME, LIME], [TEAL, TEAL, LIME, LIME],
  [TEAL, TEAL, LIME, LIME], [TEAL, TEAL, LIME, LIME], [PURPLE, PURPLE, SI0, SI0]
];
const c1sFill = [
  [OLIVE, OLIVE, MAROON], [BLUE, BLUE, MAROON], [BLUE, BLUE, MAROON],
  [MGRAY, LGRAY, ORANGE], [YELLOW, LGRAY, MGRAY, ORANGE], [LGRAY, MGRAY, ORANGE],
  [LGRAY, MGRAY, ORANGE], [LGRAY, MGRAY, ORANGE], [BLUE, BLUE, MAROON]
];
const o1sFill = [
  [RED], [PURPLE], [PURPLE], [MGRAY, DGRAY, TEAL], [MGRAY, DGRAY, TEAL],
  [MGRAY, DGRAY, TEAL], [MGRAY, DGRAY, TEAL], [MGRAY, DGRAY, TEAL], [PURPLE]
];
const li1sFill = [[], [], [BLUE], [MGRAY, LIME], [MGRAY, LIME], [MGRAY, LIME], [MGRAY, LIME], [MGRAY, LIME], [BLUE]];
const rowLabelColor = ['#000000', '#8b0000', '#8b0000', '#8b0000', '#8b0000', '#8b0000', '#008080', '#008080', '#008080'];

// ---------- layout ----------
const panelLeft = [209, 804, 1401, 2187, 2781, 3376];
const panelWidth = 596;
const panelTop = 126;
const panelHeight = 220.2;

const grids = [], xAxes = [], yAxes = [], series = [];

columnNames.forEach((name, c) => {
  for (let r = 0; r < 9; r++) {
    const gi = c * 9 + r;
    const bottom = r === 8;
    grids.push({
      left: panelLeft[c], top: panelTop + r * panelHeight, width: panelWidth, height: panelHeight,
      show: true, borderColor: '#000', borderWidth: 2.5, backgroundColor: 'transparent'
    });
    xAxes.push({
      type: 'value', gridIndex: gi, inverse: true,
      min: xMinByColumn[c], max: xMaxByColumn[c],
      axisLine: { show: false }, splitLine: { show: false },
      axisTick: { show: true, inside: true, length: 13, lineStyle: { color: '#000', width: 2.5 },
        customValues: bottom ? xBottomTickValues[c] : xTickValues[c] },
      axisLabel: { show: bottom, customValues: xLabelValues[c], fontSize: 44, fontWeight: 'bold',
        fontFamily: FONT, color: '#000', margin: 24, hideOverlap: false }
    });
    const labels = yLabels[c][r];
    const vals = labels.map(Number);
    // crowded tick labels (5 per panel) get a slightly smaller font so none is dropped
    const gap = vals.length > 1 ? panelHeight * (vals[1] - vals[0]) / yMaxByPanel[c][r] : 100;
    const fs = gap < 38.5 ? Math.floor(gap) - 3 : 37;
    yAxes.push({
      type: 'value', gridIndex: gi, min: 0, max: yMaxByPanel[c][r],
      axisLine: { show: false }, splitLine: { show: false },
      axisTick: { show: vals.length > 0, inside: true, length: 13, lineStyle: { color: '#000', width: 2.5 },
        customValues: vals },
      axisLabel: { show: vals.length > 0, customValues: vals, fontSize: fs, lineHeight: fs, fontWeight: 'bold',
        fontFamily: FONT, color: '#000', margin: 16, hideOverlap: false, showMinLabel: true, showMaxLabel: true,
        formatter: v => { const k = vals.findIndex(u => Math.abs(u - v) < 1e-9); return k < 0 ? '' : labels[k]; } }
    });
  }
});

function addPeaks(gi, peaks, fills) {
  peaks.forEach((pts, k) => series.push({
    type: 'line', xAxisIndex: gi, yAxisIndex: gi, data: pts, smooth: 0.5, symbol: 'none',
    lineStyle: { width: 0 }, areaStyle: { color: fills[k], opacity: 1 }, z: 2, silent: true
  }));
  peaks.forEach(pts => series.push({
    type: 'line', xAxisIndex: gi, yAxisIndex: gi, data: pts, smooth: 0.5, symbol: 'none',
    lineStyle: { color: '#1c1c1c', width: 1.6 }, z: 3, silent: true
  }));
}
function addLine(gi, pts, smooth) {
  if (!pts.length) return;
  series.push({
    type: 'line', xAxisIndex: gi, yAxisIndex: gi, data: pts, smooth: smooth, symbol: 'none',
    lineStyle: { color: '#333', width: 2 }, z: 4, silent: true
  });
}

for (let r = 0; r < 9; r++) {
  addPeaks(0 * 9 + r, si2pPeaks[r], si2pFill[r]);
  addLine(0 * 9 + r, si2pEnvelope[r], 0.4);
  addPeaks(1 * 9 + r, c1sPeaks[r], c1sFill[r]);
  addLine(1 * 9 + r, c1sEnvelope[r], 0.4);
  addLine(2 * 9 + r, f1sSpectra[r], r < 2 ? false : 0.3);
  addPeaks(3 * 9 + r, o1sPeaks[r], o1sFill[r]);
  addLine(3 * 9 + r, o1sEnvelope[r], 0.4);
  addPeaks(4 * 9 + r, li1sPeaks[r], li1sFill[r]);
  addLine(4 * 9 + r, li1sEnvelope[r], r === 1 ? false : 0.4);
  addLine(5 * 9 + r, p2pSpectra[r], false);
}

// ---------- annotations ----------
const graphics = [];
// decorative rounded frame on the left
graphics.push({ type: 'rect', z: 0, shape: { x: 3, y: -156, width: 8000, height: 2520, r: 406 },
  style: { fill: 'none', stroke: '#ababab', lineWidth: 7 } });

function richLabel(x, y, str, size) {
  let out = '', buf = '';
  for (let i = 0; i < str.length; i++) {
    const ch = str[i];
    if (ch === '_' || ch === '^') {
      if (buf) { out += '{m|' + buf + '}'; buf = ''; }
      out += (ch === '_' ? '{s|' : '{p|') + str[i + 1] + '}';
      i++;
    } else buf += ch;
  }
  if (buf) out += '{m|' + buf + '}';
  const small = Math.round(size * 0.65);
  graphics.push({
    type: 'text', x: x, y: y, z: 100, silent: true,
    style: {
      text: out, align: 'left', verticalAlign: 'middle',
      rich: {
        m: { fontSize: size, fontWeight: 'bold', fontFamily: FONT, fill: '#000', lineHeight: Math.round(size * 1.4), verticalAlign: 'middle' },
        s: { fontSize: small, fontWeight: 'bold', fontFamily: FONT, fill: '#000', lineHeight: small, verticalAlign: 'bottom' },
        p: { fontSize: small, fontWeight: 'bold', fontFamily: FONT, fill: '#000', lineHeight: small, verticalAlign: 'top' }
      }
    }
  });
}
function arrow(x1, y1, x2, y2) {
  const a = Math.atan2(y2 - y1, x2 - x1), L = 24, W = 9;
  const bx = x2 - L * Math.cos(a), by = y2 - L * Math.sin(a);
  graphics.push({ type: 'line', z: 100, silent: true, shape: { x1: x1, y1: y1, x2: bx, y2: by },
    style: { stroke: '#000', lineWidth: 4 } });
  graphics.push({ type: 'polygon', z: 100, silent: true,
    shape: { points: [[x2, y2], [bx - W * Math.sin(a), by + W * Math.cos(a)], [bx + W * Math.sin(a), by - W * Math.cos(a)]] },
    style: { fill: '#000' } });
}

// peak assignments
[
  [270, 258, 'SiO_2'], [536, 174, 'Si^0'], [234, 464, 'SiO_xF_y'], [223, 888, 'Li-silicate'],
  [498, 878, 'Li_xSi'], [545, 1942, 'Si^0'], [223, 2018, 'SiO_xF_y'],
  [921, 230, 'CO_3'], [1043, 228, 'C=O'], [1160, 174, 'CH_2'], [928, 448, 'CO_3'], [1033, 428, 'O-C=O'],
  [817, 1139, 'C-F'],
  [1636, 392, 'SiO_xF_y'], [1444, 465, 'LiPF_xO_y'], [1724, 826, 'LiF'],
  [2549, 164, 'SiO_2'], [2514, 386, 'SiO_xF_y'], [2236, 887, 'SEI'], [2490, 857, 'Li-silicate'],
  [2494, 1933, 'SiO_xF_y'], [2887, 864, 'SEI'], [3166, 946, 'Li_xSi'],
  [3824, 161, 'Si-P'], [3818, 931, 'Li_xSi-P'], [3835, 1957, 'Si-P']
].forEach(d => richLabel(d[0], d[1], d[2], 46));
richLabel(837, 875, 'oligomers', 40);
[[1529, 1149, 'local'], [1529, 1190, 'charging'], [3385, 1156, 'local'], [3385, 1198, 'charging']]
  .forEach(d => richLabel(d[0], d[1], d[2], 32));

[
  [985, 267, 1041, 330], [1103, 244, 1161, 309], [1000, 487, 1057, 550], [1091, 463, 1148, 524],
  [946, 910, 963, 989], [975, 901, 1052, 977], [1045, 870, 1157, 844], [848, 1160, 891, 1205],
  [1622, 483, 1691, 525], [2314, 876, 2387, 864], [2286, 908, 2316, 967]
].forEach(a => arrow(a[0], a[1], a[2], a[3]));

// sample tags (Pristine, A ... H) in both groups
[panelLeft[0], panelLeft[3]].forEach((gx, g) => {
  rowNames.forEach((name, r) => {
    const w = name === 'Pristine' ? 186 : 42;
    const bx = gx + (g === 0 ? 10 : 13), by = panelTop + r * panelHeight + 10;
    graphics.push({ type: 'rect', z: 90, silent: true, shape: { x: bx, y: by, width: w, height: 62 },
      style: { fill: '#c8c8c8' } });
    graphics.push({ type: 'text', z: 100, silent: true, x: bx + w / 2, y: by + 33,
      style: { text: name, align: 'center', verticalAlign: 'middle', fontSize: 47, fontWeight: 'bold',
        fontFamily: FONT, fill: rowLabelColor[r] } });
  });
});

// column titles
[[522, 'Si2p'], [1109, 'C1s'], [1696, 'F1s'], [2494, 'O1s'], [3064, 'Li1s'], [3656, 'P2p']].forEach(t => {
  graphics.push({ type: 'text', z: 100, silent: true, x: t[0], y: 76,
    style: { text: t[1], align: 'center', verticalAlign: 'middle', fontSize: 82, fontFamily: FONT, fill: '#000' } });
});
// axis titles
[56, 2058].forEach(x => graphics.push({ type: 'text', z: 100, silent: true, x: x, y: 1136, rotation: Math.PI / 2,
  style: { text: 'Normalized intensity [a.u.]', align: 'center', verticalAlign: 'middle', fontSize: 68,
    fontWeight: 'bold', fontFamily: FONT, fill: '#000' } }));
[1098, 3067].forEach(x => graphics.push({ type: 'text', z: 100, silent: true, x: x, y: 2231,
  style: { text: 'Binding energy [eV]', align: 'center', verticalAlign: 'middle', fontSize: 67,
    fontWeight: 'bold', fontFamily: FONT, fill: '#000' } }));

const chart = echarts.init(document.getElementById('chart'));
chart.setOption({
  animation: false,
  backgroundColor: '#ffffff',
  grid: grids,
  xAxis: xAxes,
  yAxis: yAxes,
  series: series,
  graphic: { elements: graphics }
});
</script>
</body>
</html>
